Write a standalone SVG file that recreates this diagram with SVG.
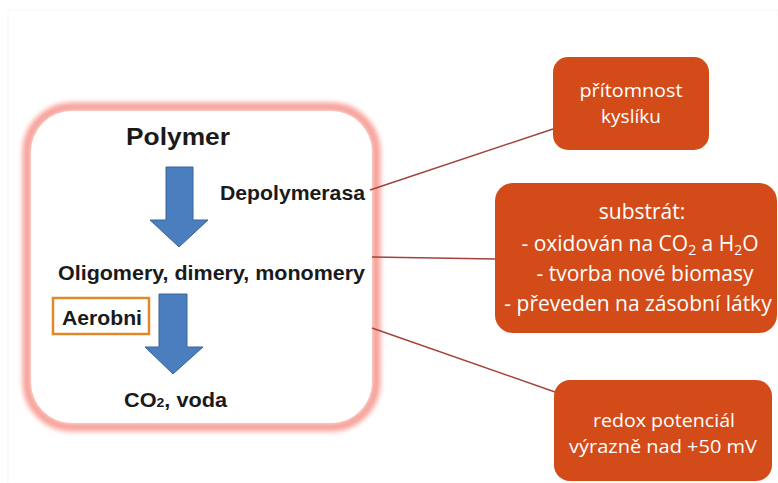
<svg xmlns="http://www.w3.org/2000/svg" width="778" height="483" viewBox="0 0 778 483">
<defs>
<filter id="glow" x="-10%" y="-10%" width="120%" height="120%"><feGaussianBlur stdDeviation="2.5"/></filter>
<style>
.dark{font-family:"Liberation Sans",Arial,sans-serif;font-weight:bold;fill:#1a1a1a;}
.wt{font-family:"Open Sans","Noto Sans",sans-serif;fill:#ffffff;font-size:19px;text-anchor:middle;}
.sub{font-size:21px;}
.box{fill:#D24B19;}
.arrow{fill:#4A7EBF;stroke:#3B6596;stroke-width:1;}
.conn{stroke:#A3423A;stroke-width:1.5;fill:none;}
</style>
</defs>
<rect x="0" y="0" width="778" height="483" fill="#ffffff"/>
<rect x="8" y="10" width="770" height="473" fill="none" stroke="#f8f8f8" stroke-width="1"/>

<g id="main">
<rect x="27" y="107" width="349" height="320" rx="45" fill="none" stroke="#F7A29A" stroke-width="9" filter="url(#glow)"/>
<rect x="31" y="111" width="341" height="312" rx="41" fill="#ffffff"/>
<text class="dark" x="178" y="145" font-size="24" text-anchor="middle" textLength="104" lengthAdjust="spacingAndGlyphs">Polymer</text>
<path class="arrow" d="M166,167 H193 V220 H208 L179,247 L150,220 H166 Z"/>
<text class="dark" x="220" y="200" font-size="20" textLength="145" lengthAdjust="spacingAndGlyphs">Depolymerasa</text>
<text class="dark" x="58" y="280" font-size="20" textLength="307" lengthAdjust="spacingAndGlyphs">Oligomery, dimery, monomery</text>
<path class="arrow" d="M159,294 H187 V347 H203 L173,374 L145,347 H159 Z"/>
<rect x="53" y="298" width="96" height="36" fill="none" stroke="#E0892A" stroke-width="2.5"/>
<text class="dark" x="62" y="325" font-size="20" textLength="80" lengthAdjust="spacingAndGlyphs">Aerobni</text>
<text class="dark" x="124" y="407" font-size="20" textLength="103" lengthAdjust="spacingAndGlyphs">CO<tspan font-size="13">2</tspan>, voda</text>
</g>

<g id="connectors">
<line class="conn" x1="370" y1="190" x2="553" y2="129"/>
<line class="conn" x1="372" y1="257" x2="496" y2="259"/>
<line class="conn" x1="372" y1="328" x2="555" y2="392"/>
</g>

<g id="kyslik">
<rect class="box" x="553" y="57" width="156" height="93" rx="15"/>
<text class="wt" x="631" y="97" textLength="103" lengthAdjust="spacingAndGlyphs">přítomnost</text>
<text class="wt" x="631" y="123">kyslíku</text>
</g>

<g id="substrat">
<rect class="box" x="495" y="183" width="282" height="150" rx="18"/>
<text class="wt sub" x="642" y="219">substrát:</text>
<text class="wt sub" x="640" y="251">- oxidován na CO<tspan font-size="14" dy="4">2</tspan><tspan dy="-4"> a H</tspan><tspan font-size="14" dy="4">2</tspan><tspan dy="-4">O</tspan></text>
<text class="wt sub" x="645" y="281">- tvorba nové biomasy</text>
<text class="wt sub" x="638" y="311">- převeden na zásobní látky</text>
</g>

<g id="redox">
<rect class="box" x="554" y="380" width="218" height="101" rx="16"/>
<text class="wt" x="664" y="427" textLength="142" lengthAdjust="spacingAndGlyphs">redox potenciál</text>
<text class="wt" x="663" y="453" textLength="188" lengthAdjust="spacingAndGlyphs">výrazně nad +50 mV</text>
</g>
</svg>
